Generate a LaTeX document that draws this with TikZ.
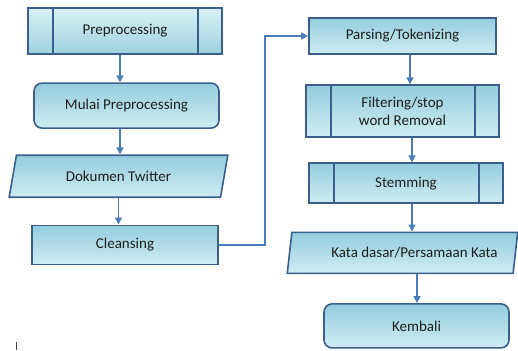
\documentclass[tikz,border=0pt]{standalone}
\usepackage{fontspec}
\setmainfont{Carlito}
\usepackage{xcolor}
\usepackage{tikz}
\usetikzlibrary{arrows.meta, positioning, shapes.geometric}

\definecolor{bordc}{RGB}{58,95,139}
\definecolor{arrc}{RGB}{74,126,187}
\definecolor{fillD}{RGB}{147,205,221}
\definecolor{fillL}{RGB}{208,236,243}
\definecolor{txtc}{RGB}{30,30,30}

\begin{document}
\begin{tikzpicture}[
  x=1pt, y=1pt,
  font=\fontsize{15}{18}\selectfont,
  box/.style={draw=bordc, line width=1.6pt, top color=fillD, bottom color=fillL,
              minimum width=186pt, minimum height=40pt, inner sep=2pt,
              align=center, text=txtc},
  termbox/.style={box, rounded corners=8pt},
  subbox/.style={box, path picture={
      \draw[bordc, line width=1.6pt]
        ([xshift=25pt]path picture bounding box.north west) -- ([xshift=25pt]path picture bounding box.south west)
        ([xshift=-24pt]path picture bounding box.north east) -- ([xshift=-24pt]path picture bounding box.south east);}},
  iobox/.style={box, trapezium, trapezium left angle=75, trapezium right angle=105,
                trapezium stretches=true},
  arr/.style={-{Triangle[length=7pt, width=7pt]}, arrc, line width=1.5pt}
]
  \useasboundingbox (0,0) rectangle (518,-350);

  % left column
  \node[subbox, top color=fillL!80!white, bottom color=fillD!90!white,
        minimum width=194pt, minimum height=46pt] (pre) at (125,-31) {Preprocessing};
  \node[termbox, minimum width=185pt, minimum height=45pt, below=27.5pt of pre, xshift=1.5pt] (mulai) {Mulai Preprocessing};
  \node[iobox, minimum width=219pt, minimum height=42pt, below=25.5pt of mulai, xshift=-8pt] (dok) {Dokumen Twitter};
  \node[box, minimum width=186pt, minimum height=39pt, below=26.5pt of dok, xshift=6.5pt] (cle) {Cleansing};

  % right column
  \node[box, minimum width=187pt, minimum height=36pt] (par) at (402.5,-36) {Parsing/Tokenizing};
  \node[subbox, minimum width=193pt, minimum height=52pt, below=29.5pt of par] (fil) {Filtering/stop\\word Removal};
  \node[subbox, minimum width=194pt, minimum height=40pt, below=24.5pt of fil, xshift=3.5pt] (stem) {Stemming};
  \node[iobox, minimum width=231pt, minimum height=41pt, below=27.5pt of stem, xshift=-3.5pt] (kata) {\hspace*{24pt}Kata dasar/Persamaan Kata};
  \node[termbox, minimum width=185pt, minimum height=44pt, below=29pt of kata, xshift=14pt] (kem) {Kembali};

  \draw[arr] ([xshift=-5pt]pre.south) -- ([xshift=-5pt]pre.south |- mulai.north);
  \draw[arr] ([xshift=-6.5pt]mulai.south) -- ([xshift=-6.5pt]mulai.south |- dok.north);
  \draw[arr] (dok.south) -- (dok.south |- cle.north);
  \draw[arr] (cle.east) -- ++(46pt,0) |- (par.west);
  \draw[arr] ([xshift=7.5pt]par.south) -- ([xshift=7.5pt]par.south |- fil.north);
  \draw[arr] ([xshift=9.5pt]fil.south) -- ([xshift=9.5pt]fil.south |- stem.north);
  \draw[arr] ([xshift=6pt]stem.south) -- ([xshift=6pt]stem.south |- kata.north);
  \draw[arr] ([xshift=14.5pt]kata.south) -- ([xshift=14.5pt]kata.south |- kem.north);

  \draw[line width=1pt, black!70] (16,-342) -- (16,-350);
\end{tikzpicture}
\end{document}
